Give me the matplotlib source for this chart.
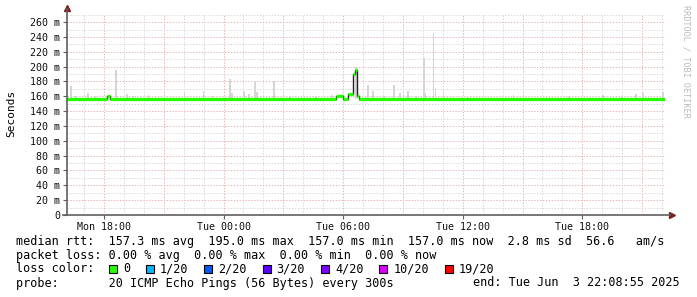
import matplotlib
matplotlib.use("Agg")
import matplotlib.pyplot as plt
from matplotlib.patches import Rectangle


# time in hours counted from Mon 00:00
START_HOUR = 16.148
END_HOUR = 46.148
STEP_HOURS = 5 / 60

# median rtt (ms), step breakpoints
median_hours = [16.148, 18.15, 18.30, 29.65, 30.00, 30.25, 30.50, 30.60, 30.70, 30.80]
median_values = [157.0, 160.0, 157.0, 160.0, 157.0, 163.0, 190.0, 195.0, 160.0, 157.0]

# smoke spikes (top of the gray smoke, ms)
smoke_hours = [16.30, 16.55, 17.15, 17.50, 18.55, 19.10, 19.45, 20.20, 21.00, 22.00, 22.95, 23.40,
               24.30, 24.40, 25.00, 25.25, 25.55, 25.65, 26.50, 27.30, 28.60, 29.40,
               30.62, 31.20, 31.45, 32.00, 32.50, 32.80, 33.20, 33.60, 34.00, 34.05, 34.50, 34.60,
               35.00, 36.20, 38.50, 41.30, 43.00, 43.95, 44.65, 45.00, 46.00]
smoke_tops = [174, 161, 164, 161, 195, 163, 161, 162, 161, 165, 167, 161,
              183, 165, 167, 163, 180, 166, 181, 161, 161, 162,
              200, 175, 167, 161, 175, 164, 167, 161, 212, 165, 246, 171,
              167, 161, 162, 161, 162, 161, 163, 164, 166]

y_ticks = [0, 20, 40, 60, 80, 100, 120, 140, 160, 180, 200, 220, 240, 260]
y_tick_labels = ["0"] + [f"{v} m" for v in y_ticks[1:]]
x_ticks = [18, 24, 30, 36, 42]
x_tick_labels = ["Mon 18:00", "Tue 00:00", "Tue 06:00", "Tue 12:00", "Tue 18:00"]

legend_lines = [
    "median rtt:  157.3 ms avg  195.0 ms max  157.0 ms min  157.0 ms now  2.8 ms sd  56.6   am/s",
    "packet loss: 0.00 % avg  0.00 % max  0.00 % min  0.00 % now",
]
loss_labels = ["0", "1/20", "2/20", "3/20", "4/20", "10/20", "19/20"]
loss_colors = ["#26ff00", "#00b8ff", "#0059ff", "#5e00ff", "#7e00ff", "#dd00ff", "#ff0000"]
probe_text = "probe:       20 ICMP Echo Pings (56 Bytes) every 300s"
end_text = "end: Tue Jun  3 22:08:55 2025"

W, H = 697, 297
MONO = "DejaVu Sans Mono"
ARROW = "#7f1f1f"
AXIS = "#606060"


def fx(px):
    return px / W


def fy(py):
    return 1 - py / H


fig = plt.figure(figsize=(W / 100, H / 100), dpi=100)
ax = fig.add_axes([fx(67), fy(215), fx(665 - 67), (215 - 14) / H])
ax.set_xlim(START_HOUR, END_HOUR)
ax.set_ylim(0, 271)
for spine in ax.spines.values():
    spine.set_visible(False)

# grid: gray every hour / 10 ms, pink every 3 hours / 20 ms
dots = (0, (1.4, 1.6))
for h in range(17, 47):
    color = "#e6b4b4" if h % 3 == 0 else "#d8d8d8"
    ax.axvline(h, color=color, linewidth=0.7, linestyle=dots, zorder=0)
for v in range(10, 271, 10):
    color = "#e6b4b4" if v % 20 == 0 else "#d8d8d8"
    ax.axhline(v, color=color, linewidth=0.7, linestyle=dots, zorder=0)

# smoke
ax.bar(smoke_hours, [t - 157 for t in smoke_tops], bottom=157, width=STEP_HOURS,
       color="#d6d6d6", linewidth=0, align="edge", zorder=1)

# median: thin black step line with green loss-colored segments
ax.step(median_hours + [END_HOUR], median_values + [median_values[-1]], where="post",
        color="#202020", linewidth=1.0, zorder=2)
seg_ends = median_hours[1:] + [END_HOUR]
ax.hlines(median_values, median_hours, seg_ends, color="#26ff00", linewidth=2.4, zorder=3)

# axis lines with arrows
ax.plot([0, 0], [0, 1.025], transform=ax.transAxes, color=AXIS, linewidth=1.2, clip_on=False, zorder=4)
ax.plot([-0.007, 1.008], [0, 0], transform=ax.transAxes, color=AXIS, linewidth=1.2, clip_on=False, zorder=4)
ax.plot([0], [1.03], marker="^", markersize=4, color=ARROW, transform=ax.transAxes, clip_on=False)
ax.plot([1.012], [0], marker=">", markersize=4, color=ARROW, transform=ax.transAxes, clip_on=False)

ax.set_yticks(y_ticks)
ax.set_yticklabels(y_tick_labels)
ax.set_xticks(x_ticks)
ax.set_xticklabels(x_tick_labels)
ax.tick_params(axis="both", labelsize=7.2, length=3, width=0.8, color=AXIS, pad=2)
for label in ax.get_xticklabels() + ax.get_yticklabels():
    label.set_fontfamily(MONO)
    label.set_color("#101010")

fig.text(fx(11), fy(113), "Seconds", rotation=90, ha="center", va="center",
         fontsize=8, fontfamily=MONO)
fig.text(fx(686), fy(5), "RRDTOOL / TOBI OETIKER", rotation=270, ha="center", va="top",
         fontsize=6.1, fontfamily=MONO, color="#bbbbbb")

# legend block
line_y = [241.5, 255, 269, 283]
for text, py in zip(legend_lines, line_y):
    fig.text(fx(16), fy(py), text, ha="left", va="center", fontsize=8.5, fontfamily=MONO)

fig.text(fx(16), fy(line_y[2]), "loss color:", ha="left", va="center", fontsize=8.5, fontfamily=MONO)
box_x = 109
for label, color in zip(loss_labels, loss_colors):
    fig.patches.append(Rectangle((fx(box_x), fy(273)), fx(8), 8 / H, transform=fig.transFigure,
                                 facecolor=color, edgecolor="black", linewidth=0.8))
    fig.text(fx(box_x + 14), fy(line_y[2]), label, ha="left", va="center", fontsize=8.5, fontfamily=MONO)
    box_x = box_x + 14 + len(label) * 7.07 + 16

fig.text(fx(16), fy(line_y[3]), probe_text, ha="left", va="center", fontsize=8.5, fontfamily=MONO)
fig.text(fx(680), fy(line_y[3]), end_text, ha="right", va="center", fontsize=8.5, fontfamily=MONO)

fig.savefig("out.png", dpi=100)
